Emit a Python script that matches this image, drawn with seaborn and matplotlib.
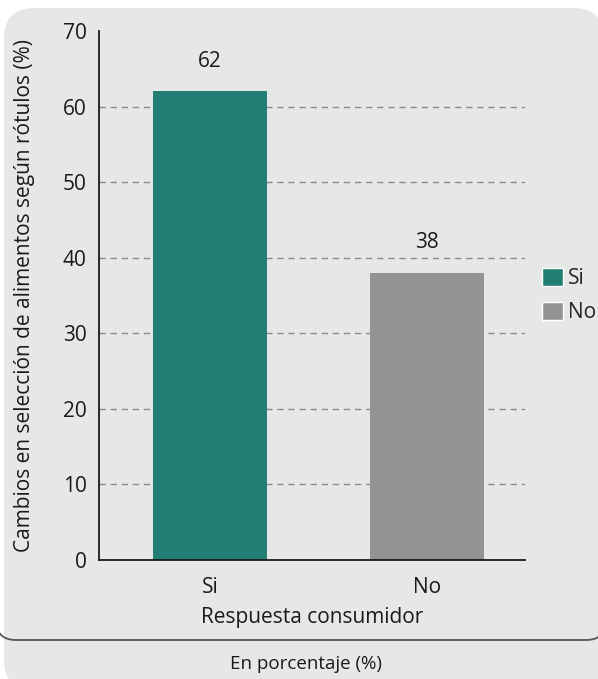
import matplotlib
matplotlib.use("Agg")
import matplotlib.pyplot as plt
from matplotlib.patches import FancyBboxPatch, PathPatch
from matplotlib.path import Path
import pandas as pd
import seaborn as sns

# data
categories = ["Si", "No"]
values = [62, 38]
colors = ["#237f73", "#939393"]
yticks = [0, 10, 20, 30, 40, 50, 60, 70]

sns.set_style("white")
plt.rcParams["font.family"] = ["Open Sans", "DejaVu Sans"]

df = pd.DataFrame({"respuesta": categories, "valor": values})

W, H = 598, 679
fig = plt.figure(figsize=(W / 100, H / 100), dpi=100, facecolor="white")

# background panel drawn in pixel coords
bg = fig.add_axes([0, 0, 1, 1], zorder=0)
bg.set_xlim(0, W)
bg.set_ylim(H, 0)
bg.axis("off")
panel = FancyBboxPatch((4, 8), 600, 682, boxstyle="round,pad=0,rounding_size=30",
                       facecolor="#e5e8e7", edgecolor="#e5e8e7", linewidth=0)
bg.add_patch(panel)
# rounded bottom border of the chart block
curve = Path([(-4, 620), (-4, 640), (16, 640), (586, 640), (606, 640), (606, 620)],
             [Path.MOVETO, Path.CURVE3, Path.CURVE3, Path.LINETO, Path.CURVE3, Path.CURVE3])
bg.add_patch(PathPatch(curve, facecolor="none", edgecolor="#555555", linewidth=1.3))
bg.text(306, 664, "En porcentaje (%)", ha="center", va="center", fontsize=13.5, color="#1a1a1a")

ax = fig.add_axes([99 / W, 1 - 560 / H, (525 - 99) / W, (560 - 31) / H], zorder=1)
ax.set_facecolor("none")

sns.barplot(data=df, x="respuesta", y="valor", hue="respuesta", order=categories,
            hue_order=categories, palette=dict(zip(categories, colors)),
            width=0.525, dodge=False, legend=False, saturation=1, linewidth=0,
            ax=ax, zorder=2)

for c in ax.containers:
    ax.bar_label(c, fmt="%d", padding=14, fontsize=15, color="#1a1a1a")

ax.hlines(yticks[1:-1], -0.51, 1.45, colors="#8a8a8a", linestyles=(0, (4.5, 3.5)),
          linewidth=1, zorder=1)

ax.set_xlim(-0.51, 1.45)
ax.set_ylim(0, 70)
ax.set_yticks(yticks)
ax.tick_params(axis="y", length=0, pad=9, labelsize=15, labelcolor="#1a1a1a")
ax.tick_params(axis="x", length=0, pad=12, labelsize=15, labelcolor="#1a1a1a")
for s in ["top", "right"]:
    ax.spines[s].set_visible(False)
for s in ["left", "bottom"]:
    ax.spines[s].set_color("#1a1a1a")
    ax.spines[s].set_linewidth(1.3)

ax.set_xlabel("Respuesta consumidor", fontsize=15, color="#1a1a1a", labelpad=7)
ax.set_ylabel("Cambios en selección de alimentos según rótulos (%)", fontsize=15,
              color="#1a1a1a", labelpad=20)

handles = [plt.Rectangle((0, 0), 1, 1, facecolor=col) for col in colors]
ax.legend(handles, categories, loc="center left", bbox_to_anchor=(542 / W, 1 - 295.5 / H),
          bbox_transform=fig.transFigure, frameon=False, fontsize=15, handlelength=1.0,
          handleheight=1.0, handletextpad=0.25, labelspacing=0.6, borderpad=0,
          borderaxespad=0)

fig.savefig("out.png", dpi=100, facecolor="white")
